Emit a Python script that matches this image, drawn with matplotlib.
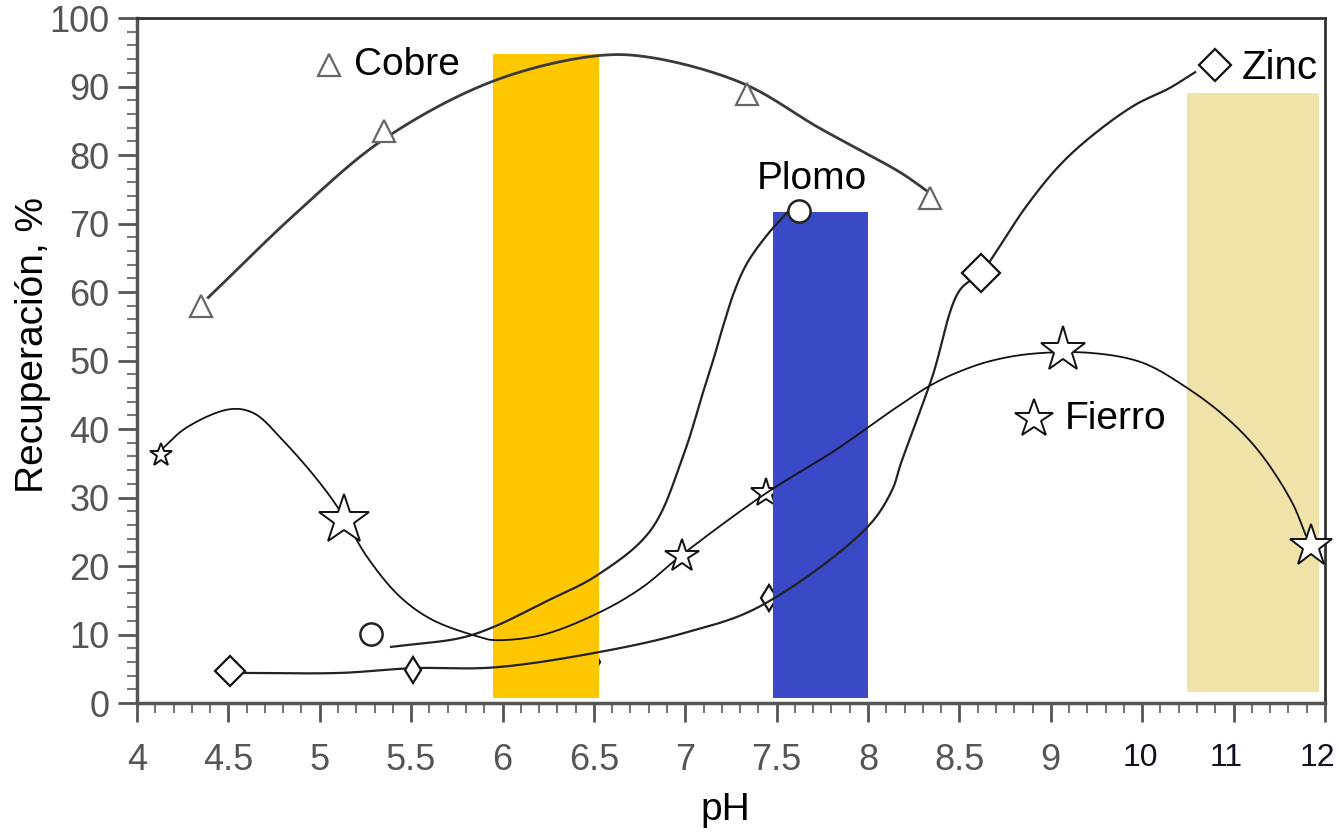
import numpy as np
import matplotlib
matplotlib.use("Agg")
import matplotlib.pyplot as plt
from matplotlib.ticker import FixedLocator, MultipleLocator
from matplotlib.transforms import ScaledTranslation

plt.rcParams['font.family'] = ['Liberation Sans', 'DejaVu Sans']

# ---- data (pH, % recovery) ----
cobre_ph = [4.35, 5.35, 7.34, 8.34]
cobre_rec = [58.0, 83.5, 88.9, 73.8]
cobre_curve_ph = [4.39, 4.87, 5.35, 5.95, 6.52, 6.82, 7.32, 7.73, 8.18, 8.32]
cobre_curve_rec = [59.2, 71.5, 82.3, 90.8, 94.5, 94.2, 90.4, 84.0, 77.4, 74.8]

plomo_ph = [5.28, 7.62]
plomo_rec = [10.1, 71.8]
plomo_curve_ph = [5.39, 5.77, 5.95, 6.22, 6.52, 6.81, 6.99, 7.10, 7.16, 7.20, 7.27, 7.34, 7.45, 7.56]
plomo_curve_rec = [8.2, 9.5, 11.1, 14.6, 18.7, 25.2, 36.2, 45.6, 50.7, 54.4, 60.2, 64.3, 68.4, 71.7]

zinc_ph = [4.51, 5.51, 6.50, 7.46, 8.62, 10.8]
zinc_rec = [4.7, 4.8, 6.0, 15.3, 62.8, 93.1]
zinc_curve_ph = [4.59, 5.11, 5.51, 5.95, 6.52, 6.99, 7.40, 7.99, 8.13, 8.18, 8.35,
                 8.50, 8.62, 8.68, 8.86, 9.09, 9.45, 9.92, 10.29, 10.58]
zinc_curve_rec = [4.4, 4.4, 5.1, 5.2, 7.4, 10.2, 14.0, 25.5, 31.0, 35.0, 47.5,
                  60.2, 62.8, 65.0, 72.3, 78.4, 82.8, 87.3, 89.7, 92.1]

fierro_ph = [4.13, 5.13, 6.98, 7.44, 9.13, 11.85]
fierro_rec = [36.2, 26.7, 21.4, 30.6, 51.5, 22.9]
fierro_curve_ph = [4.13, 4.27, 4.51, 4.64, 4.80, 4.99, 5.11, 5.26, 5.44, 5.62, 5.88, 5.95,
                   6.21, 6.52, 6.76, 6.98, 7.44, 7.82, 8.13, 8.35, 8.51, 8.68, 8.90, 9.45,
                   10.0, 10.47, 10.91, 11.28, 11.64, 11.79]
fierro_curve_rec = [36.9, 40.2, 42.9, 42.3, 38.3, 32.5, 28.1, 21.3, 15.5, 12.1, 9.6, 9.2,
                    9.9, 13.1, 16.8, 21.6, 30.6, 36.9, 42.7, 46.5, 48.5, 50.0, 51.0, 51.1,
                    49.7, 46.2, 41.8, 36.7, 29.3, 24.5]

# shaded pH windows
band_left = [5.95, 7.48, 10.49]
band_right = [6.53, 8.00, 11.93]
band_bottom = [0.7, 0.7, 1.6]
band_top = [94.8, 71.7, 89.1]
band_colors = ['#FFC700', '#3A4AC6', '#F0E3AA']

xticks = [4, 4.5, 5, 5.5, 6, 6.5, 7, 7.5, 8, 8.5, 9, 10, 11, 12]
xticklabels = ['4', '4.5', '5', '5.5', '6', '6.5', '7', '7.5', '8', '8.5', '9', '10', '11', '12']


# axis is compressed above pH 9 (one tick per pH unit)
def fwd(x):
    x = np.asarray(x, dtype=float)
    return np.where(x <= 9, x, 9 + (x - 9) / 2)


def inv(x):
    x = np.asarray(x, dtype=float)
    return np.where(x <= 9, x, 9 + 2 * (x - 9))


def smooth(xs, ys, n=24):
    # centripetal Catmull-Rom through the traced points (in roughly pixel-square units)
    P = np.column_stack([fwd(xs), np.asarray(ys, float) / 26.5])
    P = np.vstack([2 * P[0] - P[1], P, 2 * P[-1] - P[-2]])
    out = []
    for i in range(1, len(P) - 2):
        p0, p1, p2, p3 = P[i - 1], P[i], P[i + 1], P[i + 2]
        t0 = 0.0
        t1 = t0 + np.linalg.norm(p1 - p0) ** 0.5
        t2 = t1 + np.linalg.norm(p2 - p1) ** 0.5
        t3 = t2 + np.linalg.norm(p3 - p2) ** 0.5
        t = np.linspace(t1, t2, n, endpoint=False)[:, None]
        a1 = (t1 - t) / (t1 - t0) * p0 + (t - t0) / (t1 - t0) * p1
        a2 = (t2 - t) / (t2 - t1) * p1 + (t - t1) / (t2 - t1) * p2
        a3 = (t3 - t) / (t3 - t2) * p2 + (t - t2) / (t3 - t2) * p3
        b1 = (t2 - t) / (t2 - t0) * a1 + (t - t0) / (t2 - t0) * a2
        b2 = (t3 - t) / (t3 - t1) * a2 + (t - t1) / (t3 - t1) * a3
        out.append((t2 - t) / (t2 - t1) * b1 + (t - t1) / (t2 - t1) * b2)
    out.append(P[-2][None, :])
    out = np.vstack(out)
    return inv(out[:, 0]), out[:, 1] * 26.5


fig = plt.figure(figsize=(13.39, 8.38), dpi=100)
ax = fig.add_axes([0.1023, 0.161, 0.8872, 0.8175])
ax.set_xscale('function', functions=(fwd, inv))
ax.set_xlim(4, 12)
ax.set_ylim(0, 100)

for l, r, b, t, c in zip(band_left, band_right, band_bottom, band_top, band_colors):
    ax.bar(l, t - b, width=r - l, bottom=b, align='edge', color=c, zorder=2)

# curves
x, y = smooth(cobre_curve_ph, cobre_curve_rec)
ax.plot(x, y, color='#3a3a3a', lw=2.0, zorder=3)
x, y = smooth(plomo_curve_ph, plomo_curve_rec)
ax.plot(x, y, color='#222222', lw=1.6, zorder=3)
x, y = smooth(zinc_curve_ph, zinc_curve_rec)
ax.plot(x, y, color='#222222', lw=1.6, zorder=3)
x, y = smooth(fierro_curve_ph, fierro_curve_rec)
ax.plot(x, y, color='#111111', lw=1.3, zorder=3)

# markers
mk = dict(markerfacecolor='white', linestyle='none', clip_on=False)
ax.plot(cobre_ph, cobre_rec, marker='^', ms=16, markeredgecolor='#666666', mew=1.6, zorder=4, **mk)
ax.plot(plomo_ph, plomo_rec, marker='o', ms=16, markeredgecolor='#222222', mew=1.8, zorder=4, **mk)

zinc_mark = ['D', 'd', 'd', 'd', 'D', 'D']
zinc_ms = [15, 13, 11, 13, 19, 16]
zinc_z = [4, 4, 1, 1, 4, 4]
for px, py, m, s, z in zip(zinc_ph, zinc_rec, zinc_mark, zinc_ms, zinc_z):
    ax.plot([px], [py], marker=m, ms=s, markeredgecolor='#111111', mew=1.6, zorder=z, **mk)

fierro_ms = [17, 38, 25, 22, 34, 32]
fierro_z = [4, 4, 4, 1, 4, 4]
for px, py, s, z in zip(fierro_ph, fierro_rec, fierro_ms, fierro_z):
    ax.plot([px], [py], marker='*', ms=s, markeredgecolor='#111111', mew=1.4, zorder=z, **mk)

# series labels
ax.plot([5.05], [93.1], marker='^', ms=16, markeredgecolor='#666666', mew=1.6, zorder=4, **mk)
ax.text(5.19, 93.1, 'Cobre', fontsize=28, va='center', ha='left', zorder=5)
ax.text(7.39, 76.5, 'Plomo', fontsize=28, va='center', ha='left', zorder=5)
ax.text(11.09, 92.7, 'Zinc', fontsize=29, va='center', ha='left', zorder=5)
ax.plot([8.91], [41.5], marker='*', ms=29, markeredgecolor='#111111', mew=1.4, zorder=4, **mk)
ax.text(9.15, 41.5, 'Fierro', fontsize=28, va='center', ha='left', zorder=5)

# axes styling
ax.xaxis.set_major_locator(FixedLocator(xticks))
ax.set_xticklabels(xticklabels)
ax.xaxis.set_minor_locator(FixedLocator(list(np.arange(4, 9, 0.1)) + list(np.arange(9, 12.01, 0.2))))
ax.yaxis.set_major_locator(MultipleLocator(10))
ax.yaxis.set_minor_locator(MultipleLocator(2))

ax.tick_params(axis='both', which='major', direction='out', length=14, width=2,
               color='#555555', labelsize=26, labelcolor='#555555')
ax.tick_params(axis='both', which='minor', direction='out', length=7, width=1.5, color='#777777')
ax.tick_params(axis='x', which='major', pad=15)
ax.tick_params(axis='y', which='major', pad=6)
shifts = [-2, -7, -8]
for lab, dx in zip(ax.get_xticklabels()[-3:], shifts):
    lab.set_color('#111122')
    lab.set_fontsize(23)
    lab.set_transform(lab.get_transform() + ScaledTranslation(dx / 100, 0, fig.dpi_scale_trans))

for side in ['left', 'bottom']:
    ax.spines[side].set_linewidth(2.5)
    ax.spines[side].set_color('#555555')
for side in ['top', 'right']:
    ax.spines[side].set_linewidth(2.0)
    ax.spines[side].set_color('#333333')

ax.set_xlabel('pH', fontsize=28)
ax.xaxis.set_label_coords(0.495, -0.130)
ax.set_ylabel('Recuperación, %', fontsize=28)
ax.yaxis.set_label_coords(-0.0724, 0.523)

fig.savefig('out.png', dpi=100)
